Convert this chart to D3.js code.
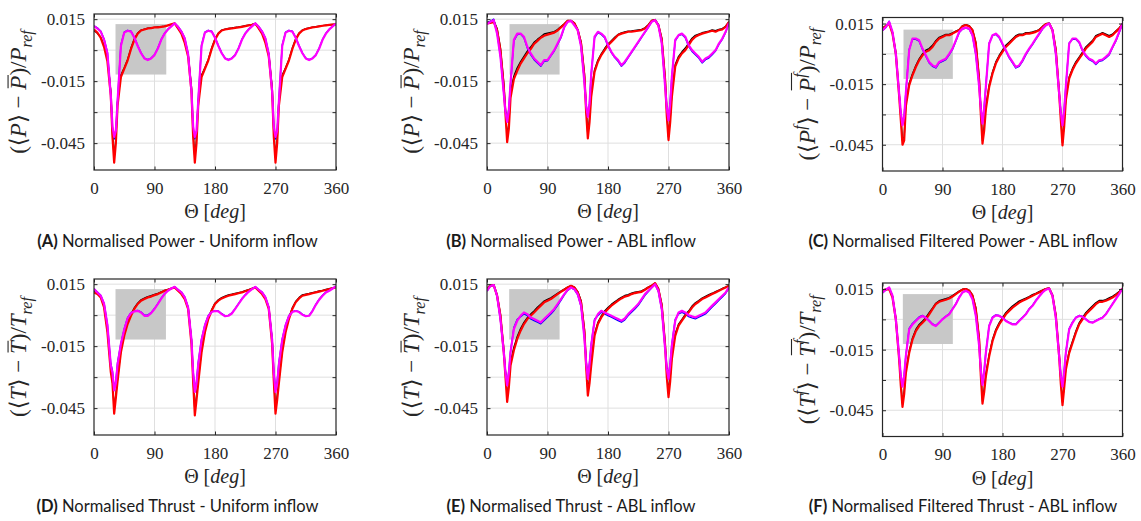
<!DOCTYPE html>
<html>
<head>
<meta charset="utf-8">
<script src="https://cdn.jsdelivr.net/npm/d3@7"></script>
<style>
  body { margin: 0; background: #fff; }
  svg { display: block; }
</style>
</head>
<body>
<script>
// rotor angle, degrees (5 deg steps, 2.5 deg around the blade passages)
var theta = [0, 5, 10, 15, 20, 25, 27.5, 30, 32.5,
  35, 40, 45, 50, 55, 60, 65, 70, 75, 80, 85, 90, 95, 100, 105, 110, 115, 120, 125, 130, 135, 140, 145,
  147.5, 150, 152.5,
  155, 160, 165, 170, 175, 180, 185, 190, 195, 200, 205, 210, 215, 220, 225, 230, 235, 240, 245, 250, 255, 260, 265,
  267.5, 270, 272.5,
  275, 280, 285, 290, 295, 300, 305, 310, 315, 320, 325, 330, 335, 340, 345, 350, 355, 360];

// values are in units of 1e-3
// (A) power, uniform inflow
var powUniBlack = [9.5, 8.2, 6.2, 2.3, -4, -20, -40, -52, -43,
  -25, -12, -8.5, -4.5, 1, 5.5, 8.3, 9.7, 10.2, 10.6, 10.8, 11, 11.2, 11.4, 11.6, 12, 12.5, 13, 10.7, 8.3, 4.2, -2, -18,
  -40, -52, -43,
  -25, -12, -8.5, -4.5, 1, 5.4, 8.3, 9.7, 10.2, 10.5, 10.7, 11, 11.2, 11.5, 11.8, 12.1, 12.4, 12.8, 10.7, 8.3, 4.2, -2, -18,
  -40, -52, -43,
  -25, -12, -8.5, -4.5, 1, 5.4, 8.3, 9.7, 10.4, 10.8, 11.1, 11.3, 11.6, 11.9, 12.1, 12.3, 12.5, 12.4];
var powUniRed = [10, 8.5, 6, 1.5, -5.5, -22, -42, -54.5, -45,
  -27, -13, -9, -5, 0.5, 5, 8, 9.5, 10, 10.5, 10.7, 11, 11, 11.3, 11.5, 12, 12.5, 13, 10.5, 8, 3.5, -3, -20,
  -42, -54.5, -45,
  -27, -13, -9, -5, 0.5, 5, 8, 9.5, 10, 10.3, 10.5, 10.8, 11, 11.3, 11.6, 12, 12.3, 12.8, 10.5, 8, 3.5, -3, -20,
  -42, -54.5, -45,
  -27, -13, -9, -5, 0.5, 5, 8, 9.5, 10.2, 10.6, 11, 11.2, 11.5, 11.8, 12, 12.2, 12.4, 12.6];
var powUniBlue = [11.8, 10.8, 9.2, 5.4, -1, -21, -38, -43, -40,
  -24, 2.5, 8.7, 9.6, 9.2, 6.2, 2.2, -1.3, -3.8, -4.6, -3.8, -2.2, 1, 5.2, 8.2, 10.2, 11.6, 13, 11.5, 9.2, 5.8, -1.6, -19,
  -38, -43, -40,
  -24, 2.5, 8.7, 9.6, 9.2, 6.2, 2.2, -1.3, -3.8, -4.6, -3.8, -2.2, 1, 5.2, 8.2, 10.2, 11.6, 13, 11.5, 9.2, 5.8, -1.6, -19,
  -38, -43, -40,
  -24, 2.5, 8.7, 9.6, 9.2, 6.2, 2.2, -1.3, -3.8, -4.6, -3.8, -2.2, 1, 5.2, 8.2, 10.2, 11.6, 13];
var powUniMag = [11.6, 10.5, 9, 5, -1.6, -22, -37, -42, -39,
  -25, 2, 8.5, 9.4, 9, 6, 2, -1.5, -4, -4.8, -4, -2.4, 0.8, 5, 8, 10, 11.5, 13, 11.3, 9, 5.6, -2, -20,
  -37, -42, -39,
  -25, 2, 8.5, 9.4, 9, 6, 2, -1.5, -4, -4.8, -4, -2.4, 0.8, 5, 8, 10, 11.5, 13, 11.3, 9, 5.6, -2, -20,
  -37, -42, -39,
  -25, 2, 8.5, 9.4, 9, 6, 2, -1.5, -4, -4.8, -4, -2.4, 0.8, 5, 8, 10, 11.5, 12.8];

// (B) power, ABL inflow
var powAblBlack = [13.5, 13.8, 14.5, 10.5, 1, -16, -29, -42, -36,
  -20, -12.5, -8.5, -5.5, -3, -0.5, 1.5, 3.8, 5.2, 6.5, 7.8, 8.2, 8.6, 9, 10, 11.4, 12.8, 14.4, 14.3, 13.2, 10, 4, -11.5,
  -28, -41, -33,
  -20.5, -9.5, -4.8, -1.8, 0.8, 3, 4.6, 6.2, 7.6, 8.3, 8.8, 9.2, 9.3, 9.6, 9.8, 10, 10.8, 12.3, 14.4, 14.8, 12.4, 5.8, -13,
  -30, -42, -33,
  -21, -7, -3, -0.8, 1, 3.4, 5.8, 7.2, 7.8, 8.4, 8.8, 9.2, 9.8, 9.4, 10, 10.4, 11.6, 13.8];
var powAblRed = [13, 13.2, 13.7, 9.7, 0, -18, -31, -44.5, -38,
  -23, -14, -10, -6.5, -4, -1.5, 0.5, 3, 4.5, 6, 7, 7.5, 8, 8.5, 9.5, 11, 12.5, 14.2, 14.2, 13, 9.7, 3.2, -13,
  -30, -42.7, -35,
  -22.6, -10.5, -5.6, -2.4, 0, 2.4, 4, 5.6, 7.3, 8, 8.4, 8.9, 8.9, 9.2, 9.4, 9.7, 10.5, 12, 14.2, 14.5, 12, 5, -14.5,
  -32, -43.5, -35,
  -22.6, -8, -4, -1.6, 0, 2.4, 5, 6.5, 7.3, 8, 8.4, 8.9, 9.4, 8.9, 9.7, 10, 11.3, 13.7];
var powAblBlue = [12.8, 14, 15, 8.5, -3, -21, -29.5, -34, -28,
  -16.5, 4.5, 7.5, 7.8, 6, 1, -2.2, -4.6, -6.2, -7.8, -5.4, -5.2, -2.8, -0.4, 2.8, 6, 11, 13.8, 14.4, 12.2, 9.8, 1.8, -15.5,
  -26.5, -31.5, -25.5,
  -11.5, 6, 8.5, 7.6, 6, 2, -1.2, -3.6, -5.4, -7.8, -6.2, -3.6, -1.2, 1.2, 3.6, 6.2, 8.6, 11, 13.8, 14.8, 12.2, 3.6, -17,
  -27.5, -32.5, -25,
  -12.5, 4.5, 7, 7.6, 6, 1.8, -0.6, -2.2, -3.8, -6.2, -4.6, -3.8, -2.2, -0.4, 2.8, 5.2, 8.6, 13.4];
var powAblMag = [12.6, 13.7, 14.5, 8, -3.2, -21, -30, -34.7, -29,
  -16, 5, 8, 8, 6.5, 1.6, -1.6, -4, -5.6, -7.3, -4.8, -4.8, -2.4, 0, 3.2, 6.5, 11.3, 13.7, 14.2, 12, 9.7, 1.6, -16,
  -27, -32.3, -26,
  -12, 6.5, 8.9, 8, 6.5, 2.4, -0.8, -3.2, -4.8, -7.3, -5.6, -3.2, -0.8, 1.6, 4, 6.5, 8.9, 11.3, 13.7, 14.5, 12, 3.2, -17.7,
  -28, -34, -26,
  -13, 5, 7.3, 8, 6.5, 2.4, 0, -1.6, -3.2, -5.6, -4, -3.2, -1.6, 0, 3.2, 5.6, 8.9, 13.2];

// (C) filtered power, ABL inflow
var powFilBlack = [12.8, 14, 15.3, 10.5, 0.8, -19.5, -31, -43, -41,
  -25, -14.5, -9.8, -5.8, -2.5, 0, 1.8, 2.6, 4.2, 6.5, 8.2, 8.9, 9.6, 9.6, 10.4, 11.3, 12, 13.9, 14.4, 13.9, 12, 5.8, -11.5,
  -28, -43, -36,
  -26, -15.5, -9, -4, -0.8, 1.8, 4.2, 5.8, 7.4, 9, 9.7, 9.7, 10.5, 10.5, 10.8, 11.3, 12, 13.6, 14.9, 15.2, 12, 2.6, -18.5,
  -31, -44, -34,
  -21.8, -11.5, -7.2, -4, -1.6, 0.8, 3.4, 5, 6.6, 9, 9.7, 10.5, 9.8, 9, 9.7, 11.3, 12.8, 14.9];
var powFilRed = [12.5, 13.7, 15, 10, 0, -21, -33, -45, -43,
  -26, -15.6, -10.6, -6.5, -3.2, -0.7, 1, 1.8, 3.4, 5.9, 7.6, 8.4, 9.2, 9.2, 10, 10.9, 11.7, 13.7, 14.2, 13.7, 11.7, 5, -13,
  -30, -44.5, -38,
  -27.6, -16.4, -9.8, -4.8, -1.5, 1, 3.4, 5, 6.7, 8.4, 9.2, 9.2, 10, 10, 10.4, 10.9, 11.7, 13.3, 14.7, 15, 11.7, 1.8, -19.7,
  -33, -45.3, -36,
  -23, -12.3, -8, -4.8, -2.4, 0, 2.6, 4.3, 5.9, 8.4, 9.2, 10, 9.2, 8.4, 9.2, 10.9, 12.5, 14.7];
var powFilBlue = [11.5, 13, 16.2, 10.5, -0.5, -20, -29.5, -35, -30.5,
  -19, 2.2, 7.2, 7.2, 6.3, 2.2, -1.2, -4.5, -6.2, -7, -4.5, -3.7, -2.9, -0.5, 2.2, 6.3, 10.5, 12.3, 12.8, 12.3, 9, -0.5, -16,
  -26.5, -34, -26.5,
  -16, 5.4, 9, 9.6, 8, 4.6, 1.4, -2, -4.5, -7, -6.2, -3.7, -0.5, 2.2, 4.6, 7.2, 9.6, 12.3, 14, 15.2, 11.5, -0.5, -19.5,
  -28.5, -35, -27.5,
  -16, 5.4, 7.2, 7.2, 5.5, 1.4, -1.2, -2.9, -3.7, -5.3, -3.7, -3.3, -2, -0.5, 3, 6.3, 10.5, 15];
var powFilMag = [11.7, 13.3, 15.8, 10.9, 0, -19.7, -29, -35.4, -31,
  -19.7, 1.8, 7.6, 7.6, 6.7, 2.6, -0.7, -4, -5.7, -6.5, -4, -3.2, -2.4, 0, 2.6, 6.7, 10.9, 12.5, 13, 12.5, 9.2, 0, -16.4,
  -27, -34.6, -27,
  -16.4, 5, 9.2, 10, 8.4, 5, 1.8, -1.5, -4, -6.5, -5.7, -3.2, 0, 2.6, 5, 7.6, 10, 12.5, 14.2, 15, 11.7, 0, -19.7,
  -29, -35.4, -28,
  -16.4, 5, 7.6, 7.6, 5.9, 1.8, -0.7, -2.4, -3.2, -4.8, -3.2, -2.8, -1.5, 0, 3.4, 6.7, 10.9, 15];

// (D) thrust, uniform inflow
var thrUniBlack = [11.5, 10.6, 9, 4.2, -7, -25.5, -31.5, -45.5, -38.5,
  -31, -17, -9.3, -3.7, 0.3, 3.5, 5.8, 7.4, 8.2, 9, 9.4, 10, 10.5, 11.2, 12, 12.5, 13, 13.4, 12, 10.5, 8.2, 3.6, -12,
  -30.5, -46, -39,
  -31.5, -17, -7.6, -1.3, 2.6, 5.8, 7.4, 8.5, 9.2, 9.8, 10.1, 10.5, 10.9, 11.3, 11.8, 12.3, 12.9, 13.4, 12, 10.5, 8.2, 3.6, -12,
  -30.5, -45.5, -39,
  -31.5, -17, -7.6, -1.3, 3.5, 6.6, 8.5, 9.8, 10.2, 10.5, 10.9, 11.3, 11.7, 12, 12.4, 12.8, 13.2, 13.5];
var thrUniRed = [11, 10.2, 8.6, 3.7, -8.3, -27.6, -33, -47.7, -40,
  -32, -18, -10, -4.3, -0.3, 3, 5.4, 7, 7.8, 8.6, 9, 9.7, 10.2, 11, 11.8, 12.3, 12.9, 13.4, 11.8, 10.2, 7.8, 3, -14,
  -32, -48.5, -41,
  -33, -18, -8.3, -1.9, 2.1, 5.4, 7, 8.1, 8.8, 9.4, 9.8, 10.2, 10.6, 11, 11.6, 12.1, 12.8, 13.4, 11.8, 10.2, 7.8, 3, -14,
  -32, -47.7, -41,
  -33, -18, -8.3, -1.9, 3, 6.2, 8.1, 9.4, 9.8, 10.2, 10.6, 11, 11.4, 11.8, 12.2, 12.6, 13, 13.4];
var thrUniBlue = [12.8, 11.2, 9.6, 5.8, -4.5, -23.5, -27, -35.5, -32,
  -23, -13.5, -6.6, -1.2, 1.2, 2, 2.3, 1.5, 0, 0, 1.2, 3.2, 5.6, 8.2, 10.4, 12, 13, 13.7, 12.4, 11.2, 8.8, 4, -11.5,
  -27, -36, -32,
  -23, -11.5, -4.6, -0.2, 1.7, 2.2, 2, 0.7, -0.3, -0.1, 1, 3.2, 5.6, 8, 9.9, 11.5, 12.8, 13.7, 12.4, 11.2, 8.8, 4, -11.5,
  -27, -36, -32,
  -23, -11.5, -4.6, -0.2, 1.7, 2.2, 1.7, 0.4, -0.3, -0.1, 2.2, 5.2, 7.7, 9.6, 11.2, 12, 13, 14];
var thrUniMag = [12.6, 11, 9.4, 5.4, -5, -24.4, -28, -36.4, -33,
  -24, -14, -7, -1.5, 1, 1.8, 2.1, 1.3, -0.3, -0.3, 1, 3, 5.4, 8, 10.2, 11.8, 12.9, 13.7, 12.3, 11, 8.6, 3.7, -12,
  -28, -37.2, -33,
  -24, -12, -5, -0.5, 1.5, 2, 1.8, 0.5, -0.5, -0.3, 0.8, 3, 5.4, 7.8, 9.7, 11.3, 12.6, 13.7, 12.3, 11, 8.6, 3.7, -12,
  -28, -37.2, -33,
  -24, -12, -5, -0.5, 1.5, 2, 1.5, 0.2, -0.5, -0.3, 2, 5, 7.5, 9.4, 11, 11.8, 12.9, 14];

// (E) thrust, ABL inflow
var thrAblBlack = [13, 14.6, 14.8, 10, 0.5, -16.5, -28, -40, -33,
  -22.5, -15.5, -10.3, -6.5, -3.5, -1.2, 0.5, 2, 3.8, 5.3, 6.8, 7.6, 8.4, 9.5, 10.6, 11.6, 12.6, 13.6, 14.3, 13.6, 11.4, 7, -7,
  -23, -36.5, -31,
  -22.5, -9, -3.5, -0.4, 2, 3.7, 5.2, 6.4, 7.6, 8.6, 9.5, 9.9, 10.6, 11.1, 11.4, 11.7, 12.6, 13.6, 14.4, 15.5, 13, 5.5, -13,
  -28, -37.5, -30,
  -19.5, -9, -4.3, -2, 0.4, 2, 4.4, 6, 7.1, 8.3, 9.1, 9.9, 10.6, 11.4, 12.1, 12.9, 13.6, 14.3];
var thrAblRed = [12.6, 14.2, 14.5, 9.4, -0.3, -18, -30, -42, -35,
  -24.4, -17, -11.5, -7.5, -4.3, -1.9, -0.3, 1.3, 3, 4.6, 6.2, 7, 7.8, 9, 10.2, 11.3, 12.3, 13.4, 14.2, 13.4, 11, 6.2, -8.3,
  -25, -38.9, -33,
  -24.4, -10, -4.3, -1.1, 1.3, 3, 4.6, 5.8, 7, 8.1, 9, 9.4, 10.2, 10.7, 11, 11.3, 12.3, 13.4, 14.2, 15.5, 12.6, 4.6, -14.7,
  -30, -39.7, -32,
  -21.2, -10, -5.1, -2.7, -0.3, 1.3, 3.7, 5.4, 6.5, 7.8, 8.6, 9.4, 10.2, 11, 11.8, 12.6, 13.4, 14.2];
var thrAblBlue = [11.6, 14, 14.6, 9, -2.5, -18.5, -27, -33, -27,
  -17.5, -6, -2, -0.8, 0.6, -0.2, -1.8, -2.6, -3.4, -4.2, -2.6, -1, 0.6, 2.4, 4.8, 7.2, 9.8, 12, 13.2, 12.4, 9.8, 4, -11,
  -22, -29.5, -23,
  -14, -2, -0.2, 1.4, 0.6, -0.2, -1, -1.8, -2.6, -3.4, -2.3, -0.2, 1.4, 3, 4.8, 7.2, 9.6, 11.4, 13.2, 15, 11.4, 2.4, -16,
  -25, -29.5, -23,
  -14, -2, 0.6, 1.4, 0.6, -0.7, -1.3, -1.8, -1, -0.2, 0.6, 2.3, 3.9, 5.5, 7.2, 8.8, 10.5, 13.2];
var thrAblMag = [11.8, 14.2, 14.5, 9.4, -1.9, -18, -28, -34, -28,
  -18, -6.7, -2.7, -0.3, 1.3, 0.5, -1.1, -1.9, -2.7, -3.5, -1.9, -0.3, 1.3, 3, 5.4, 7.8, 10.2, 12.3, 13.4, 12.6, 10.2, 4.6, -11.5,
  -23, -30.8, -24,
  -14.7, -2.7, 0.5, 2.1, 1.3, 0.5, -0.3, -1.1, -1.9, -2.7, -1.6, 0.5, 2.1, 3.7, 5.4, 7.8, 10.2, 11.8, 13.4, 15, 11.8, 3, -16.4,
  -26, -30.8, -24,
  -14.7, -2.7, 1.3, 2.1, 1.3, 0, -0.6, -1.1, -0.3, 0.5, 1.3, 3, 4.6, 6.2, 7.8, 9.4, 11, 13.4];

// (F) filtered thrust, ABL inflow
var thrFilBlack = [14.4, 14.9, 15.3, 11.4, 0.8, -19, -31, -42, -35.5,
  -25.5, -15.8, -9.2, -5, -2.5, -0.9, 0.8, 3.3, 5.6, 8, 9.2, 9.7, 10.2, 10.8, 11.8, 12.9, 14, 14.9, 15.2, 14.4, 12.1, 5.8, -9,
  -26, -40.5, -34.5,
  -27, -17.3, -10, -5, -1.7, 0.8, 3.3, 5, 6.6, 7.8, 9, 9.8, 10.5, 11.3, 12.2, 12.9, 13.7, 14.5, 15.2, 15.5, 12.1, 2.5, -17,
  -30, -41, -32.5,
  -24, -15.8, -10.8, -5.9, -1.7, 0.8, 3.3, 5, 6.6, 8.2, 9.3, 9.3, 9.8, 10.6, 11.4, 12.5, 13.7, 15.3];
var thrFilRed = [14.2, 14.7, 15, 10.8, 0, -20, -33, -43.3, -37,
  -26.7, -16.7, -10, -5.8, -3.3, -1.7, 0, 2.5, 5, 7.5, 8.7, 9.2, 9.7, 10.3, 11.3, 12.5, 13.7, 14.7, 15, 14.2, 11.7, 5, -10,
  -28, -41.7, -36,
  -28.3, -18.3, -10.8, -5.8, -2.5, 0, 2.5, 4.2, 5.8, 7, 8.3, 9.2, 10, 10.8, 11.7, 12.5, 13.3, 14.2, 15, 15.3, 11.7, 1.7, -18.3,
  -32, -42.5, -34,
  -25, -16.7, -11.7, -6.7, -2.5, 0, 2.5, 4.2, 5.8, 7.5, 8.7, 8.7, 9.2, 10, 10.8, 12, 13.3, 15.3];
var thrFilBlue = [13.1, 14.6, 15.6, 11.5, -0.3, -18.6, -27.5, -33, -27.5,
  -18, -4.5, -2, -0.4, 1.2, 1.9, 1, -0.6, -2.3, -3.1, -1.5, 0.2, 1.5, 2.7, 5.2, 7.7, 11, 13.4, 14.2, 13.3, 10.2, 2, -13,
  -24.5, -32, -25.5,
  -16.3, -3, 1.1, 2.2, 1.9, 1, -0.6, -1.5, -2.3, -2.3, -0.6, 1, 2.7, 5.2, 6.9, 9.4, 11.5, 13.4, 14.8, 15.3, 11.9, 1.1, -18,
  -27.5, -33, -25.5,
  -16.3, -4.6, -1.4, 1, 1.9, 1.5, 0.2, -1.1, -1.5, -0.6, 0.2, 1, 2.7, 5.2, 7.7, 10.2, 12.7, 15.3];
var thrFilMag = [13.3, 14.7, 15.8, 11.7, 0, -18.3, -28, -33.3, -28,
  -18.3, -5, -2.5, -0.8, 0.8, 1.7, 0.8, -0.8, -2.5, -3.3, -1.7, 0, 1.3, 2.5, 5, 7.5, 10.8, 13.3, 14.2, 13.3, 10, 1.7, -13.3,
  -25, -32.5, -26,
  -16.7, -3.3, 0.8, 2, 1.7, 0.8, -0.8, -1.7, -2.5, -2.5, -0.8, 0.8, 2.5, 5, 6.7, 9.2, 11.3, 13.3, 14.7, 15.3, 11.7, 0.8, -18.3,
  -28, -33.3, -26,
  -16.7, -5, -1.7, 0.8, 1.7, 1.3, 0, -1.3, -1.7, -0.8, 0, 0.8, 2.5, 5, 7.5, 10, 12.5, 15.3];

// highlighted window [theta0, theta1, y0, y1] (y in 1e-3)
var boxA = [32, 107.5, -11.8, 12.6];
var boxB = [33.5, 108, -11.8, 12.6];
var boxC = [31.5, 105.5, -12.4, 12];
var boxD = [32, 107, -11.8, 12.6];
var boxE = [33, 108, -11.8, 12.6];
var boxF = [30.5, 105.5, -12.2, 12.5];

var xTicks = [0, 90, 180, 270, 360];
var yTicks = [0.015, 0, -0.015, -0.03, -0.045];
var yTickLabels = ["0.015", "", "-0.015", "", "-0.045"];

var colors = ["#000000", "#0000ff", "#ff0000", "#ff00ff"];
var widths = [1.4, 1.4, 2.2, 2.2];

var serif = '"Liberation Serif", "DejaVu Serif", serif';
var ink = "#262626";

// y label pieces
function yLab(v, f) {
  var p = [{t: "(⟨"}, {t: v, it: 1}];
  if (f) p.push({t: "f", it: 1, sup: 1});
  p.push({t: "⟩ − "}, {t: v, it: 1, over: 1});
  if (f) p.push({t: "f", it: 1, sup: 1, over: 1});
  p.push({t: ")/"}, {t: v, it: 1}, {t: "ref", it: 1, sub: 1});
  return p;
}

var panels = [
  {frame: [94, 14, 242, 156], ydom: [-0.058, 0.0175], box: boxA,
   series: [powUniBlack, powUniBlue, powUniRed, powUniMag],
   ylab: yLab("P", false), cap: ["(A)", " Normalised Power - Uniform inflow"], capX: 177.5, capY: 247},
  {frame: [487, 14, 242, 156], ydom: [-0.058, 0.0175], box: boxB,
   series: [powAblBlack, powAblBlue, powAblRed, powAblMag],
   ylab: yLab("P", false), cap: ["(B)", " Normalised Power - ABL inflow"], capX: 571, capY: 247},
  {frame: [882.5, 17.5, 240, 153.5], ydom: [-0.058, 0.018], box: boxC,
   series: [powFilBlack, powFilBlue, powFilRed, powFilMag],
   ylab: yLab("P", true), cap: ["(C)", " Normalised Filtered Power - ABL inflow"], capX: 963, capY: 247},
  {frame: [94, 279, 242, 156], ydom: [-0.058, 0.0175], box: boxD,
   series: [thrUniBlack, thrUniBlue, thrUniRed, thrUniMag],
   ylab: yLab("T", false), cap: ["(D)", " Normalised Thrust - Uniform inflow"], capX: 177.5, capY: 512},
  {frame: [487, 279, 242, 156], ydom: [-0.058, 0.0175], box: boxE,
   series: [thrAblBlack, thrAblBlue, thrAblRed, thrAblMag],
   ylab: yLab("T", false), cap: ["(E)", " Normalised Thrust - ABL inflow"], capX: 571, capY: 512},
  {frame: [882.5, 283, 240, 153.5], ydom: [-0.058, 0.018], box: boxF,
   series: [thrFilBlack, thrFilBlue, thrFilRed, thrFilMag],
   ylab: yLab("T", true), cap: ["(F)", " Normalised Filtered Thrust - ABL inflow"], capX: 963, capY: 512}
];

var svg = d3.select("body").append("svg")
    .attr("width", 1141)
    .attr("height", 521)
    .style("background", "#fff");

// math-ish text: italic parts, sub/superscripts and overlines
// (text baseline sits at y = 0 of the group g)
function mathText(g, parts, size) {
  var t = g.append("text")
      .attr("text-anchor", "middle")
      .attr("fill", ink)
      .style("font-family", serif)
      .style("font-size", size + "px");
  var shift = 0, idx = 0, groups = [], cur = null;
  parts.forEach(function(p) {
    var want = p.sup ? -0.42 * size : (p.sub ? 0.28 * size : 0);
    var ts = t.append("tspan").text(p.t);
    if (want !== shift) { ts.attr("dy", want - shift); shift = want; }
    if (p.it) ts.style("font-style", "italic");
    if (p.sup || p.sub) ts.style("font-size", (0.7 * size) + "px");
    if (p.over) {
      if (!cur) { cur = {a: idx, b: idx, sup: false}; groups.push(cur); }
      cur.b = idx + p.t.length;
      if (p.sup) cur.sup = true;
    } else {
      cur = null;
    }
    idx += p.t.length;
  });
  groups.forEach(function(gr) {
    var x0 = Infinity, x1 = -Infinity;
    for (var i = gr.a; i < gr.b; i++) {
      var e = t.node().getExtentOfChar(i);
      x0 = Math.min(x0, e.x);
      x1 = Math.max(x1, e.x + e.width);
    }
    var yy = -(gr.sup ? 1.0 : 0.78) * size;
    g.append("line")
      .attr("x1", x0 + 1.5).attr("x2", x1 + 0.5)
      .attr("y1", yy).attr("y2", yy)
      .attr("stroke", ink).attr("stroke-width", 1.1);
  });
  return t;
}

panels.forEach(function(pn, k) {
  var L = pn.frame[0], T = pn.frame[1], W = pn.frame[2], H = pn.frame[3];
  var x = d3.scaleLinear().domain([0, 360]).range([L, L + W]);
  var y = d3.scaleLinear().domain(pn.ydom).range([T + H, T]);
  var g = svg.append("g");

  // grid
  g.selectAll(".gx").data(xTicks.slice(1, -1)).enter().append("line")
    .attr("x1", function(d) { return x(d); }).attr("x2", function(d) { return x(d); })
    .attr("y1", T).attr("y2", T + H)
    .attr("stroke", "#dfdfdf").attr("stroke-width", 1);
  g.selectAll(".gy").data(yTicks).enter().append("line")
    .attr("x1", L).attr("x2", L + W)
    .attr("y1", function(d) { return y(d); }).attr("y2", function(d) { return y(d); })
    .attr("stroke", "#dfdfdf").attr("stroke-width", 1);

  // grey window
  g.append("rect")
    .attr("x", x(pn.box[0])).attr("y", y(pn.box[3] / 1000))
    .attr("width", x(pn.box[1]) - x(pn.box[0]))
    .attr("height", y(pn.box[2] / 1000) - y(pn.box[3] / 1000))
    .attr("fill", "#c8c8c8");

  // curves
  var clipId = "clip" + k;
  svg.append("clipPath").attr("id", clipId).append("rect")
    .attr("x", L).attr("y", T).attr("width", W).attr("height", H);
  var line = d3.line()
    .x(function(d, i) { return x(theta[i]); })
    .y(function(d) { return y(d / 1000); });
  pn.series.forEach(function(s, j) {
    if (s.length !== theta.length) console.error("panel " + k + " series " + j + " has " + s.length);
    g.append("path")
      .datum(s)
      .attr("clip-path", "url(#" + clipId + ")")
      .attr("fill", "none")
      .attr("stroke", colors[j])
      .attr("stroke-width", widths[j])
      .attr("stroke-linejoin", "round")
      .attr("d", line);
  });

  // axes with inward ticks
  var ax = g.append("g").attr("transform", "translate(0," + (T + H) + ")")
    .call(d3.axisBottom(x).tickValues(xTicks).tickSize(-3.5).tickPadding(11.5).tickFormat(d3.format("d")));
  var ay = g.append("g").attr("transform", "translate(" + L + ",0)")
    .call(d3.axisLeft(y).tickValues(yTicks).tickSize(-3.5).tickPadding(9)
      .tickFormat(function(d, i) { return yTickLabels[i]; }));
  var at = g.append("g").attr("transform", "translate(0," + T + ")")
    .call(d3.axisTop(x).tickValues(xTicks).tickSize(-3.5).tickFormat(""));
  var ar = g.append("g").attr("transform", "translate(" + (L + W) + ",0)")
    .call(d3.axisRight(y).tickValues(yTicks).tickSize(-3.5).tickFormat(""));
  [ax, ay, at, ar].forEach(function(a) {
    a.select(".domain").remove();
    a.selectAll("line").attr("stroke", ink);
    a.selectAll("text").attr("fill", ink)
      .style("font-family", serif).style("font-size", "17px");
  });

  // frame
  g.append("rect")
    .attr("x", L).attr("y", T).attr("width", W).attr("height", H)
    .attr("fill", "none").attr("stroke", ink).attr("stroke-width", 1.2);

  // x label
  var xl = g.append("g").attr("transform", "translate(" + (L + W / 2) + "," + (T + H + 48) + ")");
  mathText(xl, [{t: "Θ ["}, {t: "deg", it: 1}, {t: "]"}], 20);

  // y label
  var yl = g.append("g").attr("transform", "translate(" + (L - 68) + "," + (T + H / 2) + ") rotate(-90)");
  mathText(yl, pn.ylab, 23);

  // caption
  var cap = svg.append("text")
    .attr("x", pn.capX).attr("y", pn.capY)
    .attr("text-anchor", "middle")
    .attr("fill", "#1a1a1a")
    .style("font-family", "Lato, 'Open Sans', sans-serif")
    .style("font-size", "16.5px");
  cap.append("tspan").style("font-weight", "bold").text(pn.cap[0]);
  cap.append("tspan").text(pn.cap[1]);
});
</script>
</body>
</html>
